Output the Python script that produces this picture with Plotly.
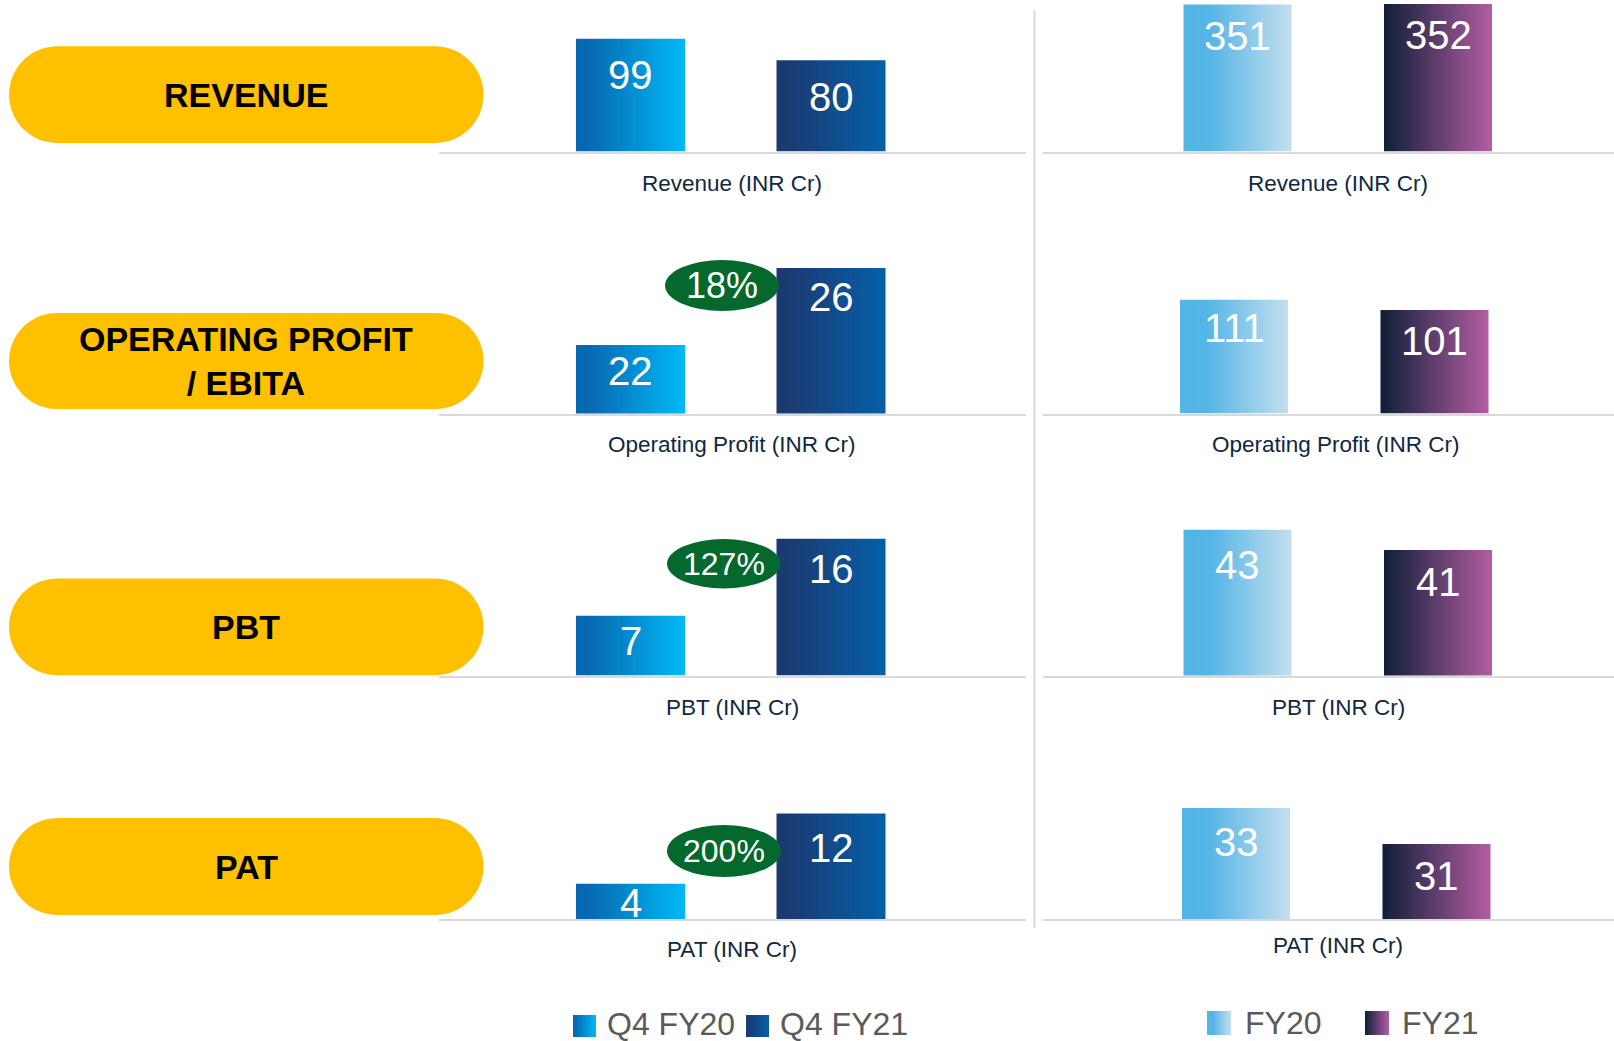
import numpy as np
import plotly.graph_objects as go

# ---------------- data ----------------
metrics = ["Revenue (INR Cr)", "Operating Profit (INR Cr)", "PBT (INR Cr)", "PAT (INR Cr)"]
pill_labels = ["REVENUE", "OPERATING PROFIT<br>/ EBITA", "PBT", "PAT"]
quarter_names = ["Q4 FY20", "Q4 FY21"]
year_names = ["FY20", "FY21"]
q4_fy20 = [99, 22, 7, 4]
q4_fy21 = [80, 26, 16, 12]
fy20 = [351, 111, 43, 33]
fy21 = [352, 101, 41, 31]
growth_labels = ["", "18%", "127%", "200%"]

# ---------------- layout constants (reference pixel coordinates) ----------------
W, H, OFF = 1614, 1041, 0
ROW_BASE = [151.5, 413.5, 675.5, 919.0]
PANEL_H = 160
DOMS = [(438.5, 1026.0), (1043.0, 1614.0)]
C0 = [630.5, 1237.5]
ROW_XSHIFT = [[0, 0, 0, 0], [0, -3.5, 0, -1.5]]
SPACING = 200.5
HW = [54.5, 54.0]
# per panel y scale: (px per unit, axis base)
SCALES = [
    [(1.14, 0), (19.25, 18.44), (8.55, 0), (8.8, 0)],
    [(0.4188, 0), (1.025, 0), (10.2, 28.7), (18.0, 26.83)],
]
# distance (px) from bar top to value-label centre
LABEL_DROP = [
    [(35, 35), (25, 28), (24, 29), (18, 33.5)],
    [(30, 29.5), (27, 30), (34, 30), (32.7, 31)],
]
TITLE_POS = [[(732, 183), (732, 444.7), (732, 707), (732, 949)],
             [(1338, 183), (1336, 444.7), (1338, 707), (1338, 945)]]
PILL_Y = [(46.3, 143), (313, 409), (578.5, 675.2), (818, 915)]
PILL_X = (9, 483.5)
ELLIPSES = [None, (665, 779, 260, 311, 36), (667, 780.5, 539, 588.5, 32), (667, 781, 825, 877, 32)]

GRADS = {
    "Q4 FY20": [[0, "#0766AF"], [0.12, "#0869B1"], [1, "#00B9F6"]],
    "Q4 FY21": [[0, "#1A3A70"], [0.15, "#1A3C74"], [1, "#0560A8"]],
    "FY20": [[0, "#53B4E6"], [0.25, "#55B5E6"], [1, "#C3DFEF"]],
    "FY21": [[0, "#0E1F38"], [1, "#B35DA3"]],
}
FONT = "Liberation Sans, Arial, sans-serif"


def fx(x):
    return (x - OFF) / W


def fy(y):
    return 1 - (y - OFF) / H


fig = go.Figure()
layout = dict(
    width=W, height=H, margin=dict(l=0, r=0, t=0, b=0),
    paper_bgcolor="white", plot_bgcolor="rgba(0,0,0,0)", showlegend=False,
    font=dict(family=FONT),
)
annotations = []
shapes = []

series_sets = [(q4_fy20, q4_fy21, quarter_names), (fy20, fy21, year_names)]

for r in range(4):
    for c in range(2):
        k = 2 * r + c + 1
        xs = "x" if k == 1 else f"x{k}"
        ys = "y" if k == 1 else f"y{k}"
        xkey = "xaxis" if k == 1 else f"xaxis{k}"
        ykey = "yaxis" if k == 1 else f"yaxis{k}"
        d0, d1 = DOMS[c]
        d1 = min(d1, OFF + W)
        c0 = C0[c] + ROW_XSHIFT[c][r]
        xr = [-(c0 - d0) / SPACING, (d1 - c0) / SPACING]
        yb = ROW_BASE[r]
        ytop = max(OFF, yb - PANEL_H)
        hp = yb - ytop
        a, b = SCALES[c][r]
        yr = [b, b + hp / a]
        layout[xkey] = dict(domain=[fx(d0), min(1, fx(d1))], range=xr, anchor=ys, showline=True,
                            linecolor="#D9D9D9", linewidth=2, showgrid=False, zeroline=False,
                            showticklabels=False, ticks="", fixedrange=True)
        layout[ykey] = dict(domain=[fy(yb), min(1, fy(ytop))], range=yr, anchor=xs,
                            visible=False, fixedrange=True)
        s1, s2, names = series_sets[c]
        hw = HW[c] / SPACING
        for i, (vals, nm) in enumerate(zip((s1, s2), names)):
            v = vals[r]
            fig.add_trace(go.Scatter(
                x=[i - hw, i + hw, i + hw, i - hw, i - hw],
                y=[0, 0, v, v, 0],
                mode="lines", fill="toself", line=dict(width=0),
                fillgradient=dict(type="horizontal", colorscale=GRADS[nm]),
                xaxis=xs, yaxis=ys, showlegend=False, name=nm,
                hoverinfo="text", text=f"{nm}: {v}",
            ))
            drop = LABEL_DROP[c][r][i] + 1.5
            annotations.append(dict(
                x=i, y=v - drop / a, xref=xs, yref=ys, text=str(v), showarrow=False,
                yanchor="middle", xanchor="center",
                font=dict(family=FONT, size=40, color="white"),
            ))
        tx, ty = TITLE_POS[c][r]
        annotations.append(dict(x=tx, y=ty, xref="x9", yref="y9", text=metrics[r],
                                showarrow=False, xanchor="center", yanchor="middle",
                                font=dict(family=FONT, size=22.5, color="#0E2841")))

# overlay axis in reference pixel coordinates for decorations
layout["xaxis9"] = dict(domain=[0, 1], range=[OFF, OFF + W], anchor="y9", visible=False, fixedrange=True)
layout["yaxis9"] = dict(domain=[0, 1], range=[OFF + H, OFF], anchor="x9", visible=False, fixedrange=True)


def stadium(x0, x1, y0, y1, n=40):
    rr = (y1 - y0) / 2
    cy = (y0 + y1) / 2
    pts = []
    for t in np.linspace(-np.pi / 2, np.pi / 2, n):
        pts.append((x1 - rr + rr * np.cos(t), cy + rr * np.sin(t)))
    for t in np.linspace(np.pi / 2, 3 * np.pi / 2, n):
        pts.append((x0 + rr + rr * np.cos(t), cy + rr * np.sin(t)))
    return "M " + " L ".join(f"{x:.2f},{y:.2f}" for x, y in pts) + " Z"


for r in range(4):
    y0, y1 = PILL_Y[r]
    shapes.append(dict(type="path", xref="x9", yref="y9", path=stadium(PILL_X[0], PILL_X[1], y0, y1),
                       fillcolor="#FFC000", line=dict(width=0), layer="below"))
    annotations.append(dict(x=(PILL_X[0] + PILL_X[1]) / 2, y=(y0 + y1) / 2, xref="x9", yref="y9",
                            text=f"<b>{pill_labels[r]}</b>", showarrow=False,
                            xanchor="center", yanchor="middle",
                            font=dict(family=FONT, size=34, color="black")))
    e = ELLIPSES[r]
    if e:
        ex0, ex1, ey0, ey1, fs = e
        shapes.append(dict(type="circle", xref="x9", yref="y9", x0=ex0, x1=ex1, y0=ey0, y1=ey1,
                           fillcolor="#05692D", line=dict(width=0), layer="above"))
        annotations.append(dict(x=(ex0 + ex1) / 2, y=(ey0 + ey1) / 2, xref="x9", yref="y9",
                                text=growth_labels[r], showarrow=False, xanchor="center",
                                yanchor="middle", font=dict(family=FONT, size=fs, color="white")))

# vertical divider
shapes.append(dict(type="line", xref="x9", yref="y9", x0=1034.5, x1=1034.5, y0=10, y1=928,
                   line=dict(color="#D9D9D9", width=2)))

# legend: gradient squares + labels
legend_items = [
    (quarter_names[0], 573, 596, 1015, 1037, 605, 1024),
    (quarter_names[1], 746, 769, 1015, 1037, 778, 1024),
    (year_names[0], 1207, 1231, 1011, 1035, 1243, 1023),
    (year_names[1], 1365, 1389, 1011, 1035, 1400, 1023),
]
for nm, x0, x1, y0, y1, tx, ty in legend_items:
    fig.add_trace(go.Scatter(x=[x0, x1, x1, x0, x0], y=[y0, y0, y1, y1, y0], mode="lines",
                             fill="toself", line=dict(width=0),
                             fillgradient=dict(type="horizontal", colorscale=GRADS[nm]),
                             xaxis="x9", yaxis="y9", showlegend=False, hoverinfo="skip"))
    annotations.append(dict(x=tx, y=ty, xref="x9", yref="y9", text=nm, showarrow=False,
                            xanchor="left", yanchor="middle",
                            font=dict(family=FONT, size=32, color="#5A5A5A")))

layout["annotations"] = annotations
layout["shapes"] = shapes
fig.update_layout(**layout)
fig.write_html("out.html", config={"displayModeBar": False},
               post_script="document.body.style.margin='0';document.body.style.overflow='hidden';")
